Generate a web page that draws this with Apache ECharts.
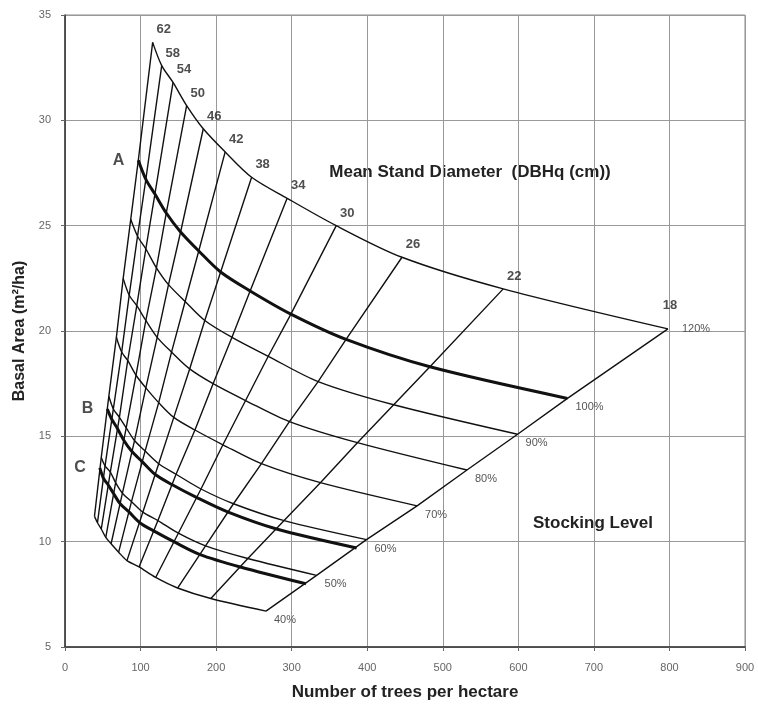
<!DOCTYPE html>
<html>
<head>
<meta charset="utf-8">
<script src="https://cdn.jsdelivr.net/npm/echarts@6/dist/echarts.min.js"></script>
<style>
  html, body { margin: 0; padding: 0; background: #fff; }
  #chart { width: 758px; height: 708px; }
</style>
</head>
<body>
<div id="chart"></div>
<script>
// mean stand diameter (cm) for each line, left to right
var diameters = [62, 58, 54, 50, 46, 42, 38, 34, 30, 26, 22, 18];

// trees/ha and basal area where each stocking curve meets each diameter line
var n120 = [116, 128, 143, 161, 183, 212, 247, 294, 359, 446, 580, 798];
var ba120 = [33.7, 32.6, 31.8, 30.7, 29.6, 28.5, 27.3, 26.3, 25.0, 23.5, 22.0, 20.1];
var n100 = [97, 107, 119, 134, 153, 177, 206, 245, 299, 372, 483, 665];
var ba100 = [28.1, 27.2, 26.5, 25.6, 24.7, 23.8, 22.8, 21.9, 20.8, 19.6, 18.3, 16.8];
var n90 = [87, 96, 107, 121, 137, 159, 185, 221, 269, 335, 435, 599];
var ba90 = [25.3, 24.5, 23.9, 23.0, 22.2, 21.4, 20.5, 19.7, 18.8, 17.6, 16.5, 15.1];
var n80 = [77, 85, 95, 107, 122, 141, 165, 196, 239, 297, 387, 532];
var ba80 = [22.5, 21.7, 21.2, 20.5, 19.7, 19.0, 18.2, 17.5, 16.7, 15.7, 14.7, 13.4];
var n70 = [68, 75, 83, 94, 107, 124, 144, 172, 209, 260, 338, 466];
var ba70 = [19.7, 19.0, 18.6, 17.9, 17.3, 16.6, 15.9, 15.3, 14.6, 13.7, 12.8, 11.7];
var n60 = [58, 64, 72, 81, 92, 106, 124, 147, 180, 223, 290, 399];
var ba60 = [16.9, 16.3, 15.9, 15.4, 14.8, 14.3, 13.7, 13.2, 12.5, 11.8, 11.0, 10.1];
var n50 = [48, 53, 60, 67, 76, 88, 103, 123, 150, 186, 242, 333];
var ba50 = [14.0, 13.6, 13.3, 12.8, 12.3, 11.9, 11.4, 11.0, 10.4, 9.8, 9.2, 8.4];
var n40 = [39, 43, 48, 54, 61, 71, 82, 98, 120, 149, 193, 266];
var ba40 = [11.2, 10.9, 10.6, 10.2, 9.9, 9.5, 9.1, 8.8, 8.3, 7.8, 7.3, 6.7];

// thick guide lines B and C (just under 60% and 50%)
var nB = [56, 62, 69, 78, 88, 102, 119, 142, 174, 216, 280, 386];
var baB = [16.3, 15.8, 15.4, 14.8, 14.3, 13.8, 13.2, 12.7, 12.1, 11.4, 10.6, 9.7];
var nC = [46, 51, 57, 64, 73, 85, 99, 118, 144, 178, 232, 319];
var baC = [13.5, 13.0, 12.7, 12.3, 11.8, 11.4, 10.9, 10.5, 10.0, 9.4, 8.8, 8.0];

var stockLevels = ['40%', '50%', '60%', '70%', '80%', '90%', '100%', '120%'];
var stockN = [n40, n50, n60, n70, n80, n90, n100, n120];
var stockBA = [ba40, ba50, ba60, ba70, ba80, ba90, ba100, ba120];

function pairs(xs, ys) {
  return xs.map(function (x, i) { return [x, ys[i]]; });
}

var font = 'Liberation Sans, Arial, sans-serif';
var series = [];

// diameter lines: join the same diameter across stocking curves
diameters.forEach(function (d, i) {
  series.push({
    type: 'line',
    name: 'D' + d,
    data: stockN.map(function (ns, k) { return [ns[i], stockBA[k][i]]; }),
    symbol: 'none',
    silent: true,
    lineStyle: { color: '#111', width: 1.4 }
  });
});

// stocking curves
stockLevels.forEach(function (lab, k) {
  series.push({
    type: 'line',
    name: lab,
    data: pairs(stockN[k], stockBA[k]),
    symbol: 'none',
    smooth: 0.3,
    silent: true,
    lineStyle: { color: '#111', width: lab === '100%' ? 3 : 1.4 },
    endLabel: {
      show: true,
      formatter: lab,
      fontFamily: font,
      fontSize: 11,
      color: '#555',
      offset: lab === '120%' ? [6, 0] : [0, 9]
    }
  });
});

// thick B and C lines
[['B', nB, baB], ['C', nC, baC]].forEach(function (g) {
  series.push({
    type: 'line',
    name: g[0],
    data: pairs(g[1], g[2]),
    symbol: 'none',
    smooth: 0.3,
    silent: true,
    lineStyle: { color: '#111', width: 3 }
  });
});

// letters A, B, C at the start of the thick lines
var letterStyle = { show: true, position: 'left', distance: 14, fontFamily: font, fontSize: 16,
  fontWeight: 'bold', color: '#222' };
var letterData = [['A', n100[0], ba100[0]], ['B', nB[0], baB[0]], ['C', nC[0], baC[0]]].map(function (l) {
  return { value: [l[1], l[2]], label: Object.assign({ formatter: l[0] }, letterStyle) };
});

// diameter labels along the top curve
var diamData = diameters.map(function (d, i) {
  return {
    value: [n120[i], ba120[i]],
    label: { show: true, position: 'top', formatter: String(d), fontFamily: font, fontSize: 13,
      fontWeight: 'bold', color: '#222', offset: d === 18 ? [2, -12] : [11, -1] }
  };
});

series.push({
  type: 'scatter',
  name: 'labels',
  symbolSize: 0,
  silent: true,
  data: letterData.concat(diamData)
});

var bold17 = 'bold 17px Liberation Sans, Arial, sans-serif';
var chart = echarts.init(document.getElementById('chart'));
chart.setOption({
  animation: false,
  backgroundColor: '#fff',
  grid: { left: 65, right: 13, top: 15, bottom: 61 },
  xAxis: {
    type: 'value',
    min: 0, max: 900, interval: 100,
    name: 'Number of trees per hectare',
    nameLocation: 'middle',
    nameGap: 37,
    nameTextStyle: { fontFamily: font, fontSize: 17, fontWeight: 'bold', color: '#222' },
    axisLine: { show: true, lineStyle: { color: '#333', width: 1.5 } },
    axisTick: { show: true, length: 4, lineStyle: { color: '#666' } },
    axisLabel: { fontFamily: font, fontSize: 11, color: '#666', margin: 15 },
    splitLine: { show: true, lineStyle: { color: '#999', width: 1 } }
  },
  yAxis: {
    type: 'value',
    min: 5, max: 35, interval: 5,
    name: 'Basal Area (m\u00b2/ha)',
    nameLocation: 'middle',
    nameGap: 35,
    nameTextStyle: { fontFamily: font, fontSize: 16, fontWeight: 'bold', color: '#222' },
    axisLine: { show: true, lineStyle: { color: '#333', width: 1.5 } },
    axisTick: { show: true, length: 4, lineStyle: { color: '#666' } },
    axisLabel: { fontFamily: font, fontSize: 11, color: '#666', margin: 14 },
    splitLine: { show: true, lineStyle: { color: '#999', width: 1 } }
  },
  graphic: [
    { type: 'rect', shape: { x: 65, y: 15, width: 680, height: 632 }, silent: true,
      style: { fill: 'none', stroke: '#888', lineWidth: 1 } },
    { type: 'text', x: 470, y: 172, silent: true,
      style: { text: 'Mean Stand Diameter  (DBHq (cm))', font: bold17,
        fill: '#222', textAlign: 'center', textVerticalAlign: 'middle' } },
    { type: 'text', x: 593, y: 523, silent: true,
      style: { text: 'Stocking Level', font: bold17,
        fill: '#222', textAlign: 'center', textVerticalAlign: 'middle' } }
  ],
  series: series
});
window.addEventListener('resize', function () { chart.resize(); });
</script>
</body>
</html>
